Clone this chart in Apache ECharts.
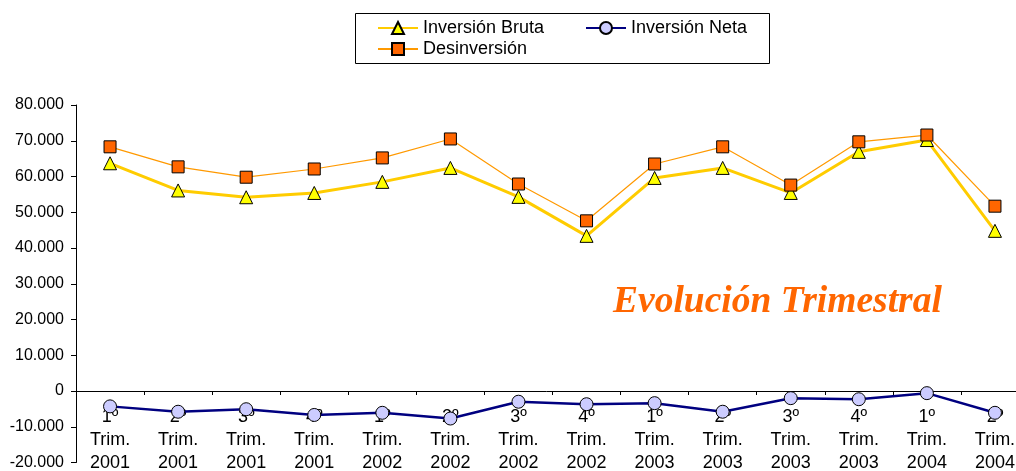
<!DOCTYPE html>
<html>
<head>
<meta charset="utf-8">
<script src="https://cdn.jsdelivr.net/npm/echarts@6/dist/echarts.min.js"></script>
<style>
html,body{margin:0;padding:0;background:#fff;}
#chart{width:1016px;height:471px;}
</style>
</head>
<body>
<div id="chart"></div>
<script>
var categories = ['1º\nTrim.\n2001','2º\nTrim.\n2001','3º\nTrim.\n2001','4º\nTrim.\n2001',
  '1º\nTrim.\n2002','2º\nTrim.\n2002','3º\nTrim.\n2002','4º\nTrim.\n2002',
  '1º\nTrim.\n2003','2º\nTrim.\n2003','3º\nTrim.\n2003','4º\nTrim.\n2003',
  '1º\nTrim.\n2004','2º\nTrim.\n2004'];
var inversionBruta = [63700, 56100, 54200, 55400, 58500, 62400, 54300, 43400, 59600, 62400, 55400, 66900, 70200, 44800];
var inversionNeta = [-4300, -5800, -5100, -6700, -6100, -7700, -3000, -3700, -3400, -5800, -2000, -2300, -600, -6100];
var desinversion = [68300, 62700, 59800, 62100, 65200, 70500, 57900, 47600, 63500, 68300, 57600, 69700, 71600, 51700];
var yTicks = { min: -20000, max: 80000, interval: 10000 };

function fmt(v){
  if (v === 0) return '0';
  var s = Math.abs(v).toString().replace(/\B(?=(\d{3})+(?!\d))/g, '.');
  return (v < 0 ? '-' : '') + s;
}

var chart = echarts.init(document.getElementById('chart'));
var font = 'Liberation Sans';
var legendText = { fontFamily: font, fontSize: 18, color: '#000' };
chart.setOption({
  animation: false,
  backgroundColor: '#fff',
  grid: { left: 76, right: -13, top: 105, bottom: 8.5, containLabel: false, outerBoundsMode: 'none' },
  legend: [
    { data: ['Inversión Bruta'], left: 377, top: 19, padding: 0, itemWidth: 40, itemHeight: 15, textStyle: legendText, selectedMode: false },
    { data: ['Inversión Neta'], left: 585, top: 19, padding: 0, itemWidth: 40, itemHeight: 15, textStyle: legendText, selectedMode: false },
    { data: ['Desinversión'], left: 377, top: 40, padding: 0, itemWidth: 40, itemHeight: 15, textStyle: legendText, selectedMode: false }
  ],
  graphic: [
    { type: 'rect', shape: { x: 355.5, y: 13.5, width: 414, height: 50 }, style: { fill: 'none', stroke: '#000', lineWidth: 1 }, z: -1 },
    { type: 'text', left: 613, top: 283, style: { text: 'Evolución Trimestral', font: 'italic bold 37.5px "Liberation Serif"', fill: '#FF6600' } }
  ],
  xAxis: {
    type: 'category',
    data: categories,
    boundaryGap: true,
    position: 'bottom',
    offset: -71.5,
    axisLine: { onZero: false, lineStyle: { color: '#000', width: 1 } },
    axisTick: { show: true, inside: false, length: 4, lineStyle: { color: '#000' } },
    axisLabel: { interval: 0, margin: 15, fontFamily: font, fontSize: 18, lineHeight: 23, color: '#000', hideOverlap: false },
    splitLine: { show: false }
  },
  yAxis: {
    type: 'value',
    min: yTicks.min, max: yTicks.max, interval: yTicks.interval,
    axisLine: { show: true, lineStyle: { color: '#000', width: 1 } },
    axisTick: { show: true, length: 5, lineStyle: { color: '#000' } },
    axisLabel: { formatter: fmt, margin: 12, fontFamily: font, fontSize: 16, color: '#000' },
    splitLine: { show: false }
  },
  series: [
    { name: 'Inversión Bruta', type: 'line', data: inversionBruta, z: 3,
      lineStyle: { color: '#FFCC00', width: 3 },
      symbol: 'triangle', symbolSize: 13,
      itemStyle: { color: '#FFFF00', borderColor: '#000', borderWidth: 1 } },
    { name: 'Inversión Neta', type: 'line', data: inversionNeta, z: 3,
      lineStyle: { color: '#000080', width: 2.5 },
      symbol: 'circle', symbolSize: 13,
      itemStyle: { color: '#CCCCFF', borderColor: '#000', borderWidth: 1 } },
    { name: 'Desinversión', type: 'line', data: desinversion, z: 4,
      lineStyle: { color: '#FF9900', width: 1.2 },
      symbol: 'rect', symbolSize: 12,
      itemStyle: { color: '#FF6600', borderColor: '#000', borderWidth: 1 } }
  ]
});
</script>
</body>
</html>
